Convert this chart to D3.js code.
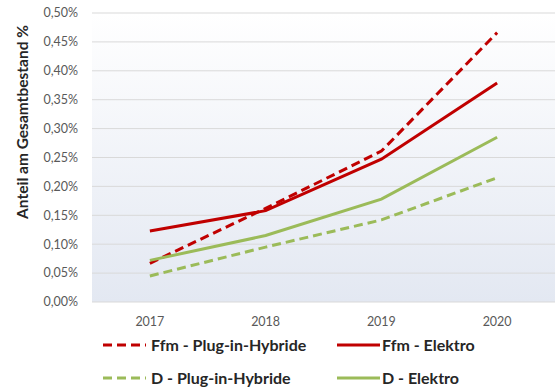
<!DOCTYPE html>
<html>
<head>
<meta charset="utf-8">
<script src="https://cdn.jsdelivr.net/npm/d3@7"></script>
<style>
  body { margin: 0; background: #fff; }
  svg { display: block; font-family: Lato, "Open Sans", sans-serif; }
</style>
</head>
<body>
<div id="chart"></div>
<script>
// Jahre (Kategorien) und Anteile am Gesamtbestand in %
const years = ["2017", "2018", "2019", "2020"];
const ffmPhev = [0.067, 0.162, 0.261, 0.466];
const ffmElektro = [0.123, 0.158, 0.247, 0.379];
const dPhev = [0.045, 0.095, 0.142, 0.215];
const dElektro = [0.072, 0.115, 0.178, 0.285];
const yTicks = [0, 0.05, 0.10, 0.15, 0.20, 0.25, 0.30, 0.35, 0.40, 0.45, 0.50];

const series = [
  { name: "Ffm - Plug-in-Hybride", values: ffmPhev, color: "#c00000", dash: "9,5" },
  { name: "Ffm - Elektro", values: ffmElektro, color: "#c00000", dash: null },
  { name: "D - Plug-in-Hybride", values: dPhev, color: "#9bbb59", dash: "9,5" },
  { name: "D - Elektro", values: dElektro, color: "#9bbb59", dash: null }
];

const W = 557, H = 392;
const m = { left: 92, right: 2, top: 13, bottom: 90 };

const svg = d3.select("#chart").append("svg").attr("width", W).attr("height", H);

const x = d3.scaleBand().domain(years).range([m.left, W - m.right]);
const y = d3.scaleLinear().domain([0, 0.5]).range([H - m.bottom, m.top]);

// Hintergrund mit Verlauf
const grad = svg.append("defs").append("linearGradient")
  .attr("id", "bg").attr("x1", 0).attr("y1", 0).attr("x2", 0).attr("y2", 1);
grad.append("stop").attr("offset", "0%").attr("stop-color", "#ffffff");
grad.append("stop").attr("offset", "100%").attr("stop-color", "#e3e8f2");

svg.append("rect")
  .attr("x", m.left).attr("y", y(0.5))
  .attr("width", W - m.right - m.left).attr("height", y(0) - y(0.5))
  .attr("fill", "url(#bg)");

// Gitterlinien + Achsenbeschriftung
svg.append("g").selectAll("line").data(yTicks).join("line")
  .attr("x1", m.left).attr("x2", W - m.right)
  .attr("y1", d => y(d)).attr("y2", d => y(d))
  .attr("stroke", "#d9d9d9").attr("stroke-width", 1);

svg.append("g").selectAll("text").data(yTicks).join("text")
  .attr("x", 78).attr("y", d => y(d)).attr("dy", "0.35em")
  .attr("text-anchor", "end").attr("fill", "#595959").style("font-size", "12.5px")
  .text(d => d.toFixed(2).replace(".", ",") + "%");

svg.append("g").selectAll("text").data(years).join("text")
  .attr("x", d => x(d) + x.bandwidth() / 2).attr("y", 322).attr("dy", "0.35em")
  .attr("text-anchor", "middle").attr("fill", "#595959").style("font-size", "12.5px")
  .text(d => d);

svg.append("text")
  .attr("transform", "translate(23,122) rotate(-90)")
  .attr("text-anchor", "middle").attr("dy", "0.35em")
  .attr("fill", "#262626").style("font-size", "15.5px").style("font-weight", "bold")
  .text("Anteil am Gesamtbestand %");

// Linien
const line = d3.line()
  .x((d, i) => x(years[i]) + x.bandwidth() / 2)
  .y(d => y(d));

svg.append("g").selectAll("path").data(series).join("path")
  .attr("d", d => line(d.values))
  .attr("fill", "none").attr("stroke", d => d.color).attr("stroke-width", 3)
  .attr("stroke-dasharray", d => d.dash);

// Legende (2 x 2)
const legPos = [[103, 345], [337, 345], [103, 378], [337, 378]];
const lg = svg.append("g").selectAll("g").data(series).join("g")
  .attr("transform", (d, i) => `translate(${legPos[i][0]},${legPos[i][1]})`);
lg.append("line").attr("x1", 0).attr("x2", 43).attr("y1", 0).attr("y2", 0)
  .attr("stroke", d => d.color).attr("stroke-width", 3)
  .attr("stroke-dasharray", d => d.dash);
lg.append("text").attr("x", (d, i) => i % 2 ? 45 : 48).attr("dy", "0.35em")
  .attr("fill", "#262626").style("font-size", "16px").style("font-weight", "bold")
  .text(d => d.name);
</script>
</body>
</html>
